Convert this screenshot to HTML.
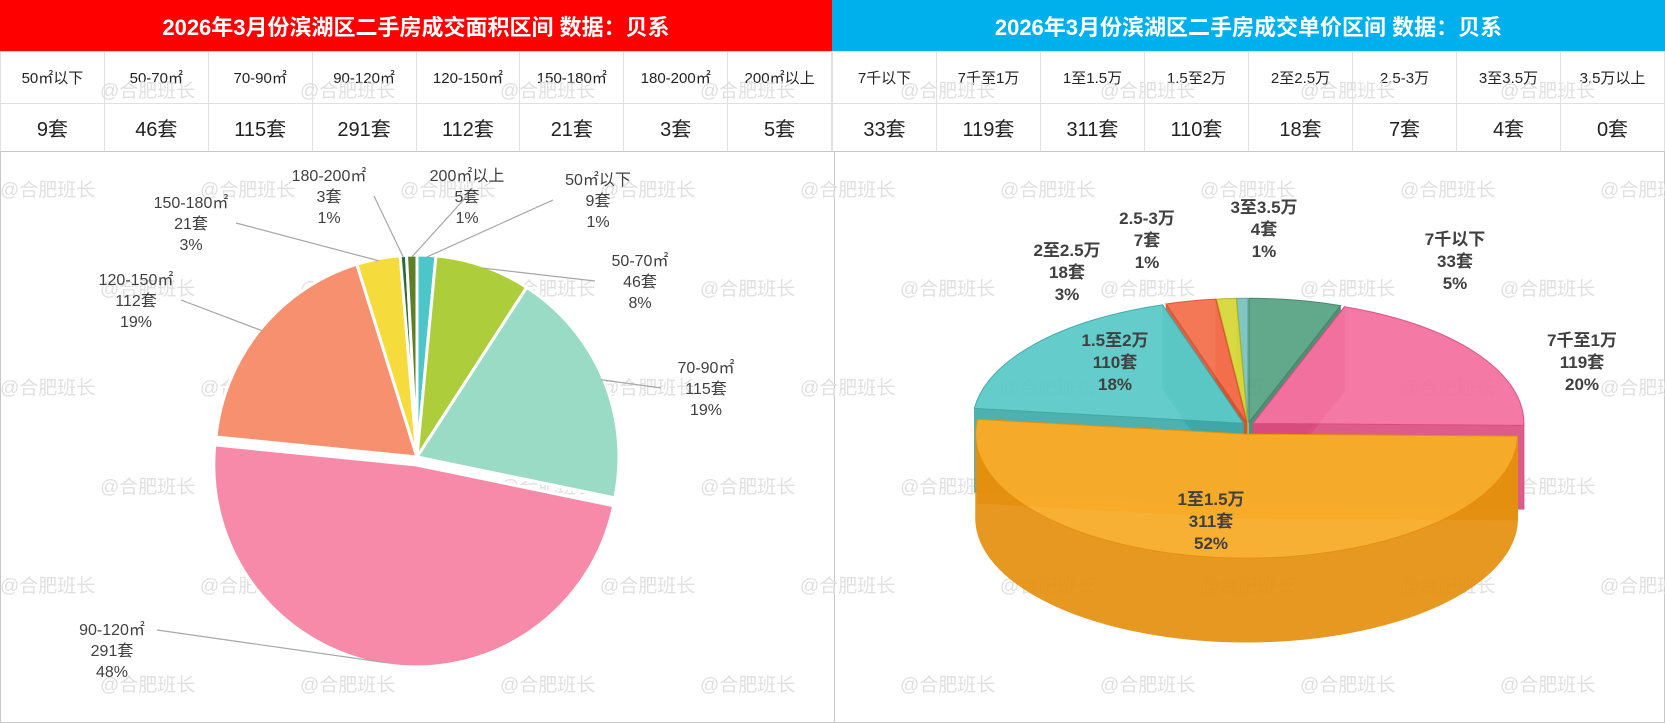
<!DOCTYPE html>
<html><head><meta charset="utf-8">
<style>
*{margin:0;padding:0;box-sizing:border-box}
html,body{width:1665px;height:723px;overflow:hidden}
body{background:#fff;font-family:"Liberation Sans","Noto Sans CJK SC",sans-serif;position:relative}
#wrap{position:absolute;left:0;top:0;width:1665px;height:723px;overflow:hidden}
.hdr{position:absolute;top:0;height:51px;color:#fff;font-weight:bold;font-size:22px;display:flex;align-items:center;justify-content:center}
table{position:absolute;border-collapse:collapse;table-layout:fixed}
td{border:1px solid #e0e0e0;text-align:center;color:#222}
td.l{height:52px;font-size:15px}
td.v{height:48px;font-size:20px}
.box{position:absolute;top:151px;height:572px;border:1px solid #c8c8c8}
svg{position:absolute;left:0;top:0}
#wms{position:absolute;left:0;top:0;width:1665px;height:723px;overflow:hidden}
.wm{position:absolute;color:#e0e0e0;font-size:19px;white-space:nowrap;pointer-events:none}
</style></head><body><div id="wrap">
<div class="hdr" style="left:0;width:832px;background:#ff0000">2026年3月份滨湖区二手房成交面积区间 数据：贝系</div>
<div class="hdr" style="left:832px;width:833px;background:#00b0ec">2026年3月份滨湖区二手房成交单价区间 数据：贝系</div>
<table style="left:0;top:51px;width:832px">
<tr><td class="l">50㎡以下</td><td class="l">50-70㎡</td><td class="l">70-90㎡</td><td class="l">90-120㎡</td><td class="l">120-150㎡</td><td class="l">150-180㎡</td><td class="l">180-200㎡</td><td class="l">200㎡以上</td></tr>
<tr><td class="v">9套</td><td class="v">46套</td><td class="v">115套</td><td class="v">291套</td><td class="v">112套</td><td class="v">21套</td><td class="v">3套</td><td class="v">5套</td></tr></table>
<table style="left:832px;top:51px;width:833px">
<tr><td class="l">7千以下</td><td class="l">7千至1万</td><td class="l">1至1.5万</td><td class="l">1.5至2万</td><td class="l">2至2.5万</td><td class="l">2.5-3万</td><td class="l">3至3.5万</td><td class="l">3.5万以上</td></tr>
<tr><td class="v">33套</td><td class="v">119套</td><td class="v">311套</td><td class="v">110套</td><td class="v">18套</td><td class="v">7套</td><td class="v">4套</td><td class="v">0套</td></tr></table>
<div class="box" style="left:0;width:835px"></div>
<div class="box" style="left:834px;width:831px"></div>
<div id="wms"></div>
<svg id="chart" width="1665" height="723"></svg>
</div>
<script>
const areaCats=["50㎡以下","50-70㎡","70-90㎡","90-120㎡","120-150㎡","150-180㎡","180-200㎡","200㎡以上"];
const areaVals=[9,46,115,291,112,21,3,5];
const areaPct=["1%","8%","19%","48%","19%","3%","1%","1%"];
const priceCats=["7千以下","7千至1万","1至1.5万","1.5至2万","2至2.5万","2.5-3万","3至3.5万","3.5万以上"];
const priceVals=[33,119,311,110,18,7,4,0];
const pricePct=["5%","20%","52%","18%","3%","1%","1%","0%"];

const NS="http://www.w3.org/2000/svg";
const svg=document.getElementById('chart');
function mk(tag,attrs,parent){const e=document.createElementNS(NS,tag);for(const k in attrs)e.setAttribute(k,attrs[k]);(parent||svg).appendChild(e);return e;}

const wms=document.getElementById('wms');
for(let r=0;r<7;r++){for(let c=-1;c<9;c++){
  const d=document.createElement('div');d.className='wm';
  
  
  d.textContent='@合肥班长';
  d.style.left=(c*200+(r%2?0:100))+'px';d.style.top=(88+r*99-12)+'px';wms.appendChild(d);}}

const areaColors=["#4cc6c9","#aecd3a","#9adbc5","#f68aa8","#f7906e","#f5dc3c","#2a6b3a","#5e7f26"];
const areaLabelPos=[[598,200],[640,281],[706,388],[112,650],[136,300],[191,223],[329,196],[467,196]];
const LC=[417,457],LR=202;
function pt(cx,cy,r,a){return [cx+r*Math.sin(a),cy-r*Math.cos(a)];}
(function(){
  const tot=areaVals.reduce((a,b)=>a+b,0);let a0=0;
  areaVals.forEach((v,i)=>{
    const a1=a0+v/tot*2*Math.PI,mid=(a0+a1)/2;
    const ex=i===3?8:0;const cx=LC[0]+ex*Math.sin(mid),cy=LC[1]-ex*Math.cos(mid);
    const p0=pt(cx,cy,LR,a0),p1=pt(cx,cy,LR,a1);
    const s=mk('path',{d:`M${cx},${cy}L${p0[0]},${p0[1]}A${LR},${LR} 0 ${a1-a0>Math.PI?1:0} 1 ${p1[0]},${p1[1]}Z`,fill:areaColors[i],stroke:'#fff','stroke-width':3});
    
    
    const lp=areaLabelPos[i];const pe=pt(cx,cy,LR*0.99,mid);
    const sx=lp[0]+(lp[0]<LC[0]?45:-45)*(Math.abs(lp[0]-pe[0])>60?1:0);
    const ln=mk('line',{x1:sx,y1:lp[1]+(i===3?-20:0),x2:pe[0],y2:pe[1],stroke:'#a6a6a6','stroke-width':1.2});
    
    
    [areaCats[i],v+'套',areaPct[i]].forEach((t,k)=>{
      const tx=mk('text',{x:lp[0],y:lp[1]-15+k*21,'text-anchor':'middle','font-size':16,fill:'#404040'});
      tx.textContent=t;
      
      
    });
    a0=a1;
  });
})();

const priceTop=["#5aa585","#f472a0","#f8ac2a","#5ccac8","#f4704e","#d8d83a","#7cc4c0","#999"];
const priceSide=["#3f8466","#d94c7e","#e5900f","#3ea8a6","#d65232","#b5b520","#5ca4a0","#777"];
const priceLabelPos=[[1455,260],[1582,361],[1211,520],[1115,361],[1067,271],[1147,239],[1264,228],[1600,200]];
const RC=[1248,425],RX=271,RY=124,DEP=84;
function ep(cx,cy,a){return [cx+RX*Math.sin(a),cy-RY*Math.cos(a)];}
(function(){
  const tot=priceVals.reduce((a,b)=>a+b,0);let a0=0;const sl=[];
  priceVals.forEach((v,i)=>{const a1=a0+v/tot*2*Math.PI;sl.push({i,a0,a1,mid:(a0+a1)/2});a0=a1;});
  const order=sl.filter(s=>s.a1>s.a0).sort((a,b)=>Math.cos(b.mid)-Math.cos(a.mid));
  const g=mk('g',{});
  
  order.forEach(s=>{
    const i=s.i;const ex=i===2?20:6;
    const cx=RC[0]+ex*Math.sin(s.mid),cy=RC[1]-ex*RY/RX*Math.cos(s.mid);
    [s.a0,s.a1].forEach(a=>{const p=ep(cx,cy,a);
      const f=mk('path',{d:`M${cx},${cy}L${p[0]},${p[1]}L${p[0]},${p[1]+DEP}L${cx},${cy+DEP}Z`,fill:priceSide[i],stroke:priceSide[i],'stroke-width':0.6,opacity:0.9},g);
      
      });
    const b0=Math.max(s.a0,Math.PI/2),b1=Math.min(s.a1,1.5*Math.PI);
    if(b1>b0){const p0=ep(cx,cy,b0),p1=ep(cx,cy,b1);
      const w=mk('path',{d:`M${p0[0]},${p0[1]}A${RX},${RY} 0 0 1 ${p1[0]},${p1[1]}L${p1[0]},${p1[1]+DEP}A${RX},${RY} 0 0 0 ${p0[0]},${p0[1]+DEP}Z`,fill:priceSide[i],stroke:priceSide[i],'stroke-width':0.8,opacity:0.92},g);
      
      }
    const p0=ep(cx,cy,s.a0),p1=ep(cx,cy,s.a1);
    const t=mk('path',{d:`M${cx},${cy}L${p0[0]},${p0[1]}A${RX},${RY} 0 ${s.a1-s.a0>Math.PI?1:0} 1 ${p1[0]},${p1[1]}Z`,fill:priceTop[i],stroke:priceSide[i],'stroke-width':1,opacity:0.95},g);
    
    
  });
  sl.forEach(s=>{const i=s.i;if(priceVals[i]===0)return;const lp=priceLabelPos[i];
    [priceCats[i],priceVals[i]+'套',pricePct[i]].forEach((t,k)=>{
      const tx=mk('text',{x:lp[0],y:lp[1]-15+k*22,'text-anchor':'middle','font-size':17,'font-weight':'bold',fill:'#404040'});
      tx.textContent=t;
      
      
    });});
})();
</script>
</body></html>
